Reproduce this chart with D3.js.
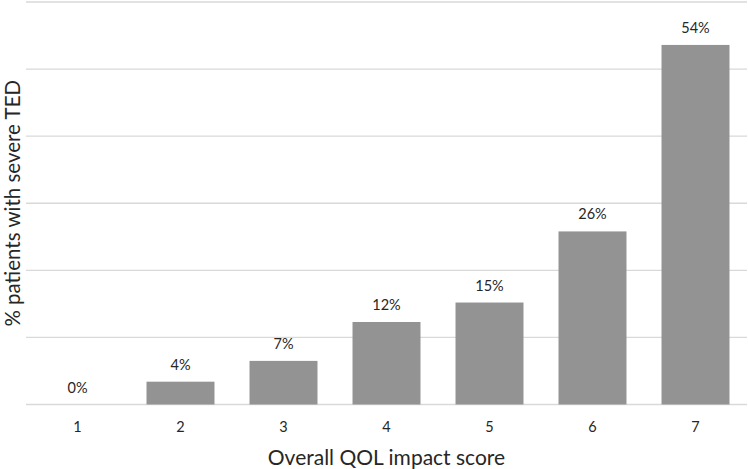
<!DOCTYPE html>
<html>
<head>
<meta charset="utf-8">
<script src="https://cdn.jsdelivr.net/npm/d3@7"></script>
<style>
  body { margin: 0; background: #fff; }
  text { font-family: Lato, "Open Sans", sans-serif; fill: #262626; }
</style>
</head>
<body>
<script>
// data
var scores = ["1", "2", "3", "4", "5", "6", "7"];
var values = [0, 3.4, 6.5, 12.3, 15.2, 25.8, 53.6];
var labels = ["0%", "4%", "7%", "12%", "15%", "26%", "54%"];
var yTicks = [0, 10, 20, 30, 40, 50, 60];

var w = 748;
var h = 469;
var plotLeft = 26, plotRight = 747, plotTop = 2, plotBottom = 404.5;

var svg = d3.select("body")
    .append("svg")
    .attr("width", w)
    .attr("height", h);

var xScale = d3.scaleBand()
    .domain(scores)
    .range([plotLeft, plotRight])
    .paddingInner(0.34)
    .paddingOuter(0.17);

var yScale = d3.scaleLinear()
    .domain([0, 60])
    .range([plotBottom, plotTop]);

// gridlines
svg.selectAll("line.grid")
    .data(yTicks)
    .enter()
    .append("line")
    .attr("class", "grid")
    .attr("x1", plotLeft)
    .attr("x2", plotRight)
    .attr("y1", function(d) { return yScale(d); })
    .attr("y2", function(d) { return yScale(d); })
    .attr("stroke", "#d9d9d9")
    .attr("stroke-width", 1.3);

// bars
svg.selectAll("rect")
    .data(values)
    .enter()
    .append("rect")
    .attr("x", function(d, i) { return xScale(scores[i]); })
    .attr("y", function(d) { return yScale(d); })
    .attr("width", xScale.bandwidth())
    .attr("height", function(d) { return plotBottom - yScale(d); })
    .attr("fill", "#939393");

// value labels
svg.selectAll("text.lbl")
    .data(values)
    .enter()
    .append("text")
    .attr("class", "lbl")
    .attr("x", function(d, i) { return xScale(scores[i]) + xScale.bandwidth() / 2; })
    .attr("y", function(d) { return yScale(d) - 12; })
    .attr("text-anchor", "middle")
    .style("font-size", "14.5px")
    .text(function(d, i) { return labels[i]; });

// x axis tick labels
svg.selectAll("text.tick")
    .data(scores)
    .enter()
    .append("text")
    .attr("class", "tick")
    .attr("x", function(d) { return xScale(d) + xScale.bandwidth() / 2; })
    .attr("y", 432)
    .attr("text-anchor", "middle")
    .style("font-size", "14.5px")
    .text(function(d) { return d; });

// axis titles
svg.append("text")
    .attr("x", (plotLeft + plotRight) / 2)
    .attr("y", 465)
    .attr("text-anchor", "middle")
    .style("font-size", "21px")
    .text("Overall QOL impact score");

svg.append("text")
    .attr("transform", "translate(19.5," + (plotTop + plotBottom) / 2 + ") rotate(-90)")
    .attr("text-anchor", "middle")
    .style("font-size", "20.5px")
    .text("% patients with severe TED");
</script>
</body>
</html>
